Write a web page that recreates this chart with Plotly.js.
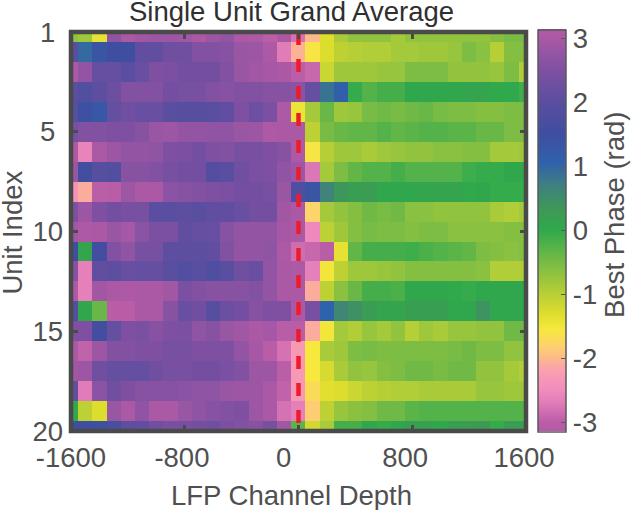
<!DOCTYPE html>
<html>
<head>
<meta charset="utf-8">
<script src="https://cdn.plot.ly/plotly-3.0.1.min.js"></script>
<style>html,body{margin:0;padding:0;background:#fff}#chart{width:631px;height:510px}</style>
</head>
<body>
<div id="chart"></div>
<script>
var depths = [-1600,-1500,-1400,-1300,-1200,-1100,-1000,-900,-800,-700,-600,-500,-400,-300,-200,-100,0,100,200,300,400,500,600,700,800,900,1000,1100,1200,1300,1400,1500,1600];
var units = [0,1,2,3,4,5,6,7,8,9,10,11,12,13,14,15,16,17,18,19,20];
var row0 = [-0.7,-0.8,-1.4,2.7,3.0,2.9,2.85,2.85,2.9,3.0,2.85,2.75,3.0,3.05,-3.0,3.0,-2.8,-2.0,-1.3,-0.9,-0.7,-0.7,-0.7,-0.85,-0.7,-0.7,-0.7,-0.7,-0.7,-0.7,-0.6,-0.5,-0.5];
var row1 = [2.0,0.95,1.35,1.5,1.5,2.1,2.1,2.3,2.3,2.55,2.55,2.6,2.8,2.85,3.05,-2.7,-2.05,-1.6,-1.3,-1.05,-1.0,-0.95,-0.95,-0.85,-0.85,-0.8,-0.8,-0.75,-0.55,-0.65,-1.0,-0.6,-0.6];
var row2 = [3.0,2.75,2.15,2.15,2.0,2.2,2.5,2.45,2.35,2.35,2.35,2.55,2.8,2.9,2.95,3.0,-3.0,-2.9,-1.15,-0.8,-0.8,-0.8,-0.75,-0.75,-0.55,-0.55,-0.55,-0.7,-0.7,-0.7,-0.75,-0.55,-0.95];
var row3 = [2.0,1.85,2.05,2.25,2.55,2.55,2.55,2.35,2.4,2.4,2.55,2.6,2.55,2.55,2.6,2.6,2.65,2.15,0.85,1.1,-0.05,-0.25,-0.15,-0.15,0.05,0.05,0.05,0.05,0.1,0.1,0,0,-0.1];
var row4 = [2.0,1.45,1.3,2.15,2.3,2.2,2.2,2.0,1.95,1.95,2.0,2.1,2.5,2.25,2.45,3.05,-1.45,-0.85,-0.4,-0.8,-0.75,-0.5,-0.45,-0.5,-0.45,-0.4,-0.5,-0.55,-0.55,-0.6,-0.6,-0.55,-0.55];
var row5 = [2.4,2.55,2.55,2.5,2.5,2.6,2.8,2.85,2.75,2.75,2.7,2.7,2.8,2.85,3.05,3.0,3.0,-1.05,-0.5,-0.4,-0.35,-0.35,-0.25,-0.35,-0.3,-0.25,-0.25,-0.3,-0.3,-0.4,-0.4,-0.55,-0.55];
var row6 = [3.05,-2.6,3.0,2.85,2.75,2.75,2.7,2.5,2.45,2.35,2.5,2.55,2.4,2.4,2.5,2.6,3.05,-1.6,-1.0,-0.8,-0.8,-0.9,-0.8,-0.75,-0.7,-0.7,-0.65,-0.65,-0.6,-0.6,-0.85,-0.85,-0.8];
var row7 = [2.8,1.6,1.95,1.85,2.6,2.6,2.55,2.4,2.35,2.35,1.9,2.0,2.3,2.45,2.5,2.7,2.85,-2.75,-0.85,-0.55,-0.35,-0.25,-0.25,-0.15,-0.25,-0.25,-0.25,-0.25,-0.1,-0.05,-0.05,0.05,0];
var row8 = [-2.4,-2.1,-3.0,-3.05,2.85,3.0,3.0,2.65,2.6,2.55,2.5,2.45,2.35,2.35,2.4,2.8,1.8,1.35,0.65,0.35,0.2,0.25,0.05,0.05,0.05,0.1,0.1,0.1,0,0.05,-0.05,-0.05,-0.05];
var row9 = [2.5,2.85,2.5,2.35,2.4,2.4,2.0,2.0,2.05,2.0,2.1,2.1,2.2,2.35,2.35,2.9,3.0,-1.8,-0.85,-0.7,-0.6,-0.45,-0.5,-0.45,-0.65,-0.65,-0.7,-0.7,-0.7,-0.7,-0.9,-0.95,-0.85];
var row10 = [2.9,3.05,3.0,2.8,2.95,2.65,2.45,2.45,2.1,2.15,2.2,2.6,2.75,2.75,2.75,2.95,3.0,-2.55,-1.05,-0.8,-0.6,-0.5,-0.55,-0.55,-0.6,-0.55,-0.55,-0.65,-0.65,-0.65,-0.65,-0.6,-0.6];
var row11 = [1.5,0.1,1.6,2.55,2.7,2.4,2.4,2.05,2.05,2.05,2.1,2.55,2.75,2.75,2.7,3.05,-2.85,-2.9,-3.05,-1.4,-0.35,-0.15,-0.15,-0.15,-0.1,-0.2,-0.25,-0.3,-0.35,-0.55,-0.6,-0.65,-0.6];
var row12 = [2.6,-2.65,2.1,2.05,2.2,2.15,2.15,2.0,1.85,2.0,1.8,2.0,2.3,2.2,2.75,3.0,3.05,-2.65,-1.5,-1.05,-0.8,-0.8,-0.75,-0.7,-0.6,-0.6,-0.6,-0.6,-0.6,-0.65,-0.95,-0.95,-0.95];
var row13 = [3.05,-2.65,2.9,3.0,3.05,3.0,3.0,2.9,2.45,2.55,2.6,2.6,2.6,2.55,2.75,3.0,3.0,-2.1,-1.05,-0.65,-0.4,-0.15,-0.15,-0.2,0.05,0.05,0.05,0,-0.05,0.05,0.05,0.05,0.05];
var row14 = [1.9,0.05,-0.4,-3.05,-3.05,3.0,3.0,2.6,2.2,2.3,1.95,2.25,2.35,2.6,2.5,2.5,3.0,2.4,1.05,0.6,0.45,0.25,0.1,0.1,0.2,0.2,0.2,0.05,0.05,0.4,0.05,0.05,0.05];
var row15 = [2.5,2.5,1.6,2.15,2.5,2.45,2.6,2.5,2.45,2.7,2.6,2.8,2.9,3.0,2.95,-3.05,-3.05,-2.1,-1.5,-0.85,-0.95,-0.75,-0.85,-0.7,-1.0,-0.8,-0.9,-0.75,-0.75,-0.7,-0.7,-0.45,-0.45];
var row16 = [3.0,-2.95,2.85,2.55,2.55,2.5,2.5,2.4,2.4,2.5,2.5,2.5,2.75,2.95,-3.05,-2.8,-2.3,-1.55,-0.9,-0.8,-0.55,-0.5,-0.55,-0.55,-0.55,-0.55,-0.55,-0.5,-0.45,-0.55,-0.55,-0.7,-0.7];
var row17 = [2.9,2.85,2.3,2.15,2.15,2.15,2.3,2.4,2.4,2.35,2.35,2.45,2.55,2.85,2.85,-3.0,-2.3,-1.55,-1.25,-0.9,-0.7,-0.75,-0.6,-0.55,-0.45,-0.45,-0.5,-0.45,-0.45,-0.7,-0.7,-0.85,-0.95];
var row18 = [2.1,-2.7,2.65,2.3,2.5,2.6,2.6,2.6,2.65,2.7,2.7,2.8,2.85,2.85,3.0,-2.95,-2.3,-1.7,-1.35,-1.3,-1.15,-1.05,-1.0,-0.95,-0.95,-0.9,-0.9,-0.9,-0.9,-0.75,-0.75,-0.8,-0.8];
var row19 = [0.0,-1.05,-1.3,2.8,3.0,2.7,3.0,3.0,2.8,2.7,2.6,2.55,2.5,2.85,3.0,-2.8,-2.65,-1.85,-1.05,-0.75,-0.65,-0.6,-0.45,-0.45,-0.3,-0.25,-0.25,-0.25,-0.25,-0.25,-0.25,-0.25,-0.25];
var row20 = [1.5,1.5,1.45,1.7,2.05,2.1,2.3,2.4,2.4,2.35,2.3,2.45,2.55,2.6,2.4,2.9,-0.3,-1.2,-0.9,-0.15,-0.15,0.05,-0.05,0.05,0.2,0.15,0.05,0.2,0.25,0.3,-0.05,0.25,0.25];
var phases = [row0,row1,row2,row3,row4,row5,row6,row7,row8,row9,row10,row11,row12,row13,row14,row15,row16,row17,row18,row19,row20];

var colorStops = [0,0.0225,0.07,0.102,0.15,0.182,0.214,0.253,0.293,0.341,0.42,0.5,0.548,0.611,0.667,0.739,0.818,0.898,0.938,0.977,1];
var colorValues = ['#b45aa5','#bb5ea8','#e07cb8','#f28cbe','#fa9fb0','#fdb98a','#fdd36b','#f6e83c','#dddd2e','#b7cf36','#78bb45','#2fa94c','#3d9a55','#3f8080','#2f62ac','#3f4ea0','#5a4ea0','#7f50a2','#9355a3','#ab58a5','#b45aa5'];
var colorscale = colorStops.map(function(s,i){return [s,colorValues[i]];});

var xTickMarks = [-1600,-800,0,800,1600];
var xLabelAt = [-1600,-820,-104,750,1586];
var xLabels = ['-1600','-800','0','800','1600'];
var yTicks = [0,5,10,15,20];
var yLabels = ['1\u00a0','5\u00a0','10','15','20'];
var cbTicks = [-3,-2,-1,0,1,2,3];
var cbLabels = ['-3','-2','-1','0','1','2','3'];
var refX = [0,0];
var refY = [0,20];

var fontFam = '"Liberation Sans", Arial, sans-serif';
var ink = '#4a4a4a';
var textInk = '#505050';
var fs = 27.5;

var traces = [
  {type:'heatmap', x:depths, y:units, z:phases, zmin:-Math.PI, zmax:Math.PI, zsmooth:false,
   colorscale:colorscale, hoverinfo:'skip',
   colorbar:{xref:'container', x:537.7/631, xanchor:'left', yref:'paper', y:-0.5/399, yanchor:'bottom',
     lenmode:'pixels', len:401.5, thicknessmode:'pixels', thickness:28, xpad:0, ypad:0,
     outlinecolor:'#5a5a5a', outlinewidth:1.5, tickmode:'array', tickvals:cbTicks, ticktext:cbLabels,
     ticks:'inside', ticklen:5, tickwidth:1.5, tickcolor:'#5a5a5a',
     tickfont:{family:fontFam,size:fs,color:textInk}}},
  {type:'scatter', mode:'lines', x:refX, y:refY, xaxis:'x2', yaxis:'y', showlegend:false, hoverinfo:'skip',
   line:{color:'#ee1c2b', width:4.5, dash:'13px,14px'}}
];
var layout = {
  width:631, height:510, showlegend:false, paper_bgcolor:'#fff', plot_bgcolor:'#fff',
  margin:{l:70.5, r:105, t:32, b:79, pad:0},
  font:{family:fontFam, color:textInk},
  title:{text:'Single Unit Grand Average', xref:'container', x:291.5/631, xanchor:'center', yref:'container', y:1-11.5/510, yanchor:'middle',
         font:{family:fontFam,size:fs,color:'#2f2f2f'}, pad:{t:0,b:0}},
  xaxis:{range:[-1600,1600], tickmode:'array', tickvals:xLabelAt, ticktext:xLabels, ticks:'', ticklabelstandoff:7,
         showgrid:false, zeroline:false, showline:false,
         tickfont:{family:fontFam,size:fs,color:textInk}},
  xaxis2:{range:[-1600,1600], overlaying:'x', side:'bottom', anchor:'y', tickmode:'array', tickvals:xTickMarks, ticks:'inside', ticklen:6.5, tickwidth:3,
         tickcolor:ink, showticklabels:false, showgrid:false, zeroline:false, showline:false, mirror:'ticks'},
  yaxis:{range:[20,0], tickmode:'array', tickvals:yTicks, ticktext:yLabels, ticks:'inside', ticklen:6.5, tickwidth:3,
         tickcolor:ink, showgrid:false, zeroline:false, showline:false, mirror:'ticks', ticklabelstandoff:7,
         tickfont:{family:fontFam,size:fs,color:textInk}},
  annotations:[
    {text:'Unit Index', xref:'paper', yref:'paper', x:(11-70.5)/455.5, y:(431-233)/399, xanchor:'center', yanchor:'middle', textangle:-90, showarrow:false,
     font:{family:fontFam,size:fs,color:textInk}},
    {text:'LFP Channel Depth', xref:'paper', yref:'paper', x:(291-70.5)/455.5, y:-(495-431)/399, xanchor:'center', yanchor:'middle', showarrow:false,
     font:{family:fontFam,size:fs,color:textInk}},
    {text:'Best Phase (rad)', xref:'paper', yref:'paper', x:(614-70.5)/455.5, y:(431-215)/399, xanchor:'center', yanchor:'middle', textangle:-90, showarrow:false,
     font:{family:fontFam,size:fs,color:textInk}}
  ],
  shapes:[{type:'rect', xref:'paper', yref:'paper', x0:0, x1:1, y0:0, y1:1, layer:'above', line:{color:ink, width:4.5}, fillcolor:'rgba(0,0,0,0)'}]
};
Plotly.newPlot('chart', traces, layout, {displayModeBar:false, staticPlot:true});
</script>
</body>
</html>
